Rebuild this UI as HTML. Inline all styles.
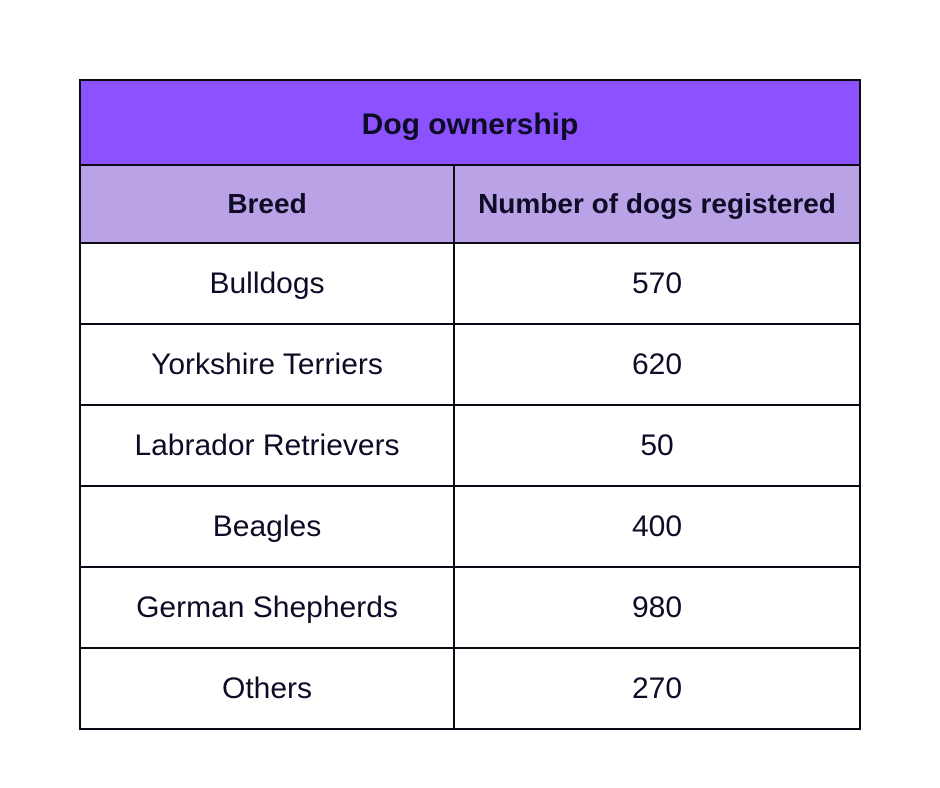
<!DOCTYPE html>
<html><head><meta charset="utf-8"><style>
html,body{margin:0;padding:0;background:#fff;width:940px;height:788px;overflow:hidden}
.c{position:absolute;display:flex;align-items:center;justify-content:center;box-sizing:border-box;border:2px solid #0a0a14;font-family:"Liberation Sans",sans-serif;color:#0d0b26}
.h{font-weight:bold;font-size:28px}
.ti{font-weight:bold;font-size:30px;padding-top:4px}
.b{font-size:30px}
</style></head><body>
<div id="t" style="position:absolute;left:0;top:0;width:940px;height:788px"></div>
<script>
const breeds=["Bulldogs","Yorkshire Terriers","Labrador Retrievers","Beagles","German Shepherds","Others"];
const counts=[570,620,50,400,980,270];
const t=document.getElementById('t');
function cell(x,y,w,h,txt,cls,bg,name){
  const d=document.createElement('div');
  d.className='c '+cls;
  d.style.cssText=`left:${x}px;top:${y}px;width:${w}px;height:${h}px;background:${bg}`;
  d.textContent=txt;
  
  
  t.appendChild(d);
}
const L=79,M=453,R=861;
cell(L,79,R-L,87,"Dog ownership","ti","#8c52ff","table-title");
cell(L,164,M-L+2,80,"Breed","h","#b9a3e6","breed-header");
cell(M,164,R-M,80,"Number of dogs registered","h","#b9a3e6","count-header");
const tops=[242,323,404,485,566,647,728];
breeds.forEach((b,i)=>{
  const y=tops[i],h=tops[i+1]-y+2;
  cell(L,y,M-L+2,h,b,"b","#fff","breed-cell");
  cell(M,y,R-M,h,String(counts[i]),"b","#fff","count-cell");
});
</script>
</body></html>
